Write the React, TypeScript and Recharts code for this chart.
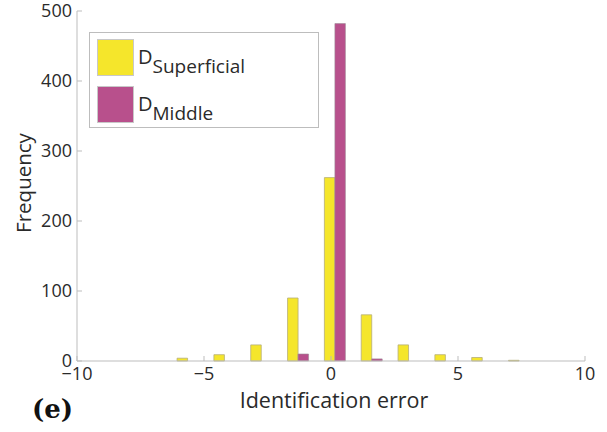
import { Bar, BarChart, Legend, XAxis, YAxis } from "recharts";

// histogram bin centres (identification error) and counts per group
const errorBins = [-5.65, -4.2, -2.75, -1.3, 0.15, 1.6, 3.05, 4.5, 5.95, 7.4];
const superficialCounts = [4, 9, 23, 90, 262, 66, 23, 9, 5, 1];
const middleCounts = [0, 0, 0, 10, 482, 3, 0, 0, 0, 0];
const xTicks = [-10, -5, 0, 5, 10];
const yTicks = [0, 100, 200, 300, 400, 500];

const dados = errorBins.map((erro, i) => ({
  erro,
  superficial: superficialCounts[i],
  middle: middleCounts[i],
}));

const AMARELO = "#F5E62B";
const MAGENTA = "#B8508C";
const CINZA = "#bdbdbd";
const FONTE = "'Open Sans', sans-serif";

const tickStyle = { fontSize: 18, fill: "#2a2a2a", fontFamily: FONTE };
const menos = (v: number) => (v < 0 ? "\u2212" + Math.abs(v) : String(v));

const LabelY = ({ viewBox }: any) => (
  <text
    transform={`translate(${viewBox.x + 6}, ${viewBox.y + viewBox.height / 2 - 3}) rotate(-90)`}
    textAnchor="middle"
    dominantBaseline="central"
    fontSize={20.5}
    fontFamily={FONTE}
    fill="#2a2a2a"
  >
    Frequency
  </text>
);

const LabelX = ({ viewBox }: any) => (
  <text
    x={viewBox.x + viewBox.width / 2 + 3}
    y={viewBox.y + 47}
    textAnchor="middle"
    fontSize={21.5}
    fontFamily={FONTE}
    fill="#2a2a2a"
  >
    Identification error
  </text>
);

const itensLegenda = [
  { cor: AMARELO, sub: "Superficial" },
  { cor: MAGENTA, sub: "Middle" },
];

const Legenda = () => (
  <div
    style={{
      width: 230,
      height: 96,
      border: `1px solid ${CINZA}`,
      background: "#fff",
      boxSizing: "border-box",
      padding: "6px 0 0 7px",
      fontFamily: FONTE,
      color: "#2a2a2a",
    }}
  >
    {itensLegenda.map((it) => (
      <div key={it.sub} style={{ display: "flex", alignItems: "flex-start", height: 47 }}>
        <div
          style={{
            width: 37,
            height: 37,
            background: it.cor,
            border: "1px solid #c8c8c8",
            boxSizing: "border-box",
            marginRight: 4,
          }}
        />
        <span style={{ fontSize: 20, lineHeight: 1, marginTop: 8 }}>
          D
          <span style={{ fontSize: 19, position: "relative", top: 9 }}>{it.sub}</span>
        </span>
      </div>
    ))}
  </div>
);

const Histograma = () => {
  return (
    <div style={{ position: "absolute", left: 0, top: 0, width: 607, height: 432, background: "#fff" }}>
      <BarChart
        width={607}
        height={432}
        data={dados}
        margin={{ top: 11, right: 22, bottom: 41, left: 17 }}
        barGap={0}
      >
        <XAxis
          dataKey="erro"
          type="number"
          domain={[-10, 10]}
          ticks={xTicks}
          tickFormatter={menos}
          tick={tickStyle}
          tickSize={-5}
          tickMargin={11}
          stroke={CINZA}
          height={30}
          label={<LabelX />}
        />
        <XAxis
          xAxisId="top"
          orientation="top"
          type="number"
          domain={[-10, 10]}
          ticks={xTicks}
          tick={false}
          tickSize={-5}
          stroke={CINZA}
          height={0}
        />
        <YAxis
          type="number"
          domain={[0, 500]}
          ticks={yTicks}
          tick={tickStyle}
          tickSize={-5}
          tickMargin={10}
          stroke={CINZA}
          width={60}
          label={<LabelY />}
        />
        <YAxis
          yAxisId="right"
          orientation="right"
          type="number"
          domain={[0, 500]}
          ticks={yTicks}
          tick={false}
          tickSize={-5}
          stroke={CINZA}
          width={0}
        />
        <Legend
          layout="horizontal"
          verticalAlign="middle"
          align="center"
          content={<Legenda />}
          wrapperStyle={{ position: "absolute", left: 89, top: 32, width: "auto", height: "auto" }}
        />
        <Bar
          dataKey="superficial"
          name="D Superficial"
          fill={AMARELO}
          stroke="#b5ad7a"
          strokeWidth={0.8}
          barSize={10.5}
          isAnimationActive={false}
        />
        <Bar
          dataKey="middle"
          name="D Middle"
          fill={MAGENTA}
          stroke="#9c8a96"
          strokeWidth={0.6}
          barSize={10.5}
          isAnimationActive={false}
        />
      </BarChart>
      <div
        style={{
          position: "absolute",
          left: 32,
          top: 394,
          fontFamily: "'DejaVu Serif', serif",
          fontWeight: "bold",
          fontSize: 26,
          color: "#111",
        }}
      >
        (e)
      </div>
    </div>
  );
};

export default function App() {
  return <Histograma />;
}
